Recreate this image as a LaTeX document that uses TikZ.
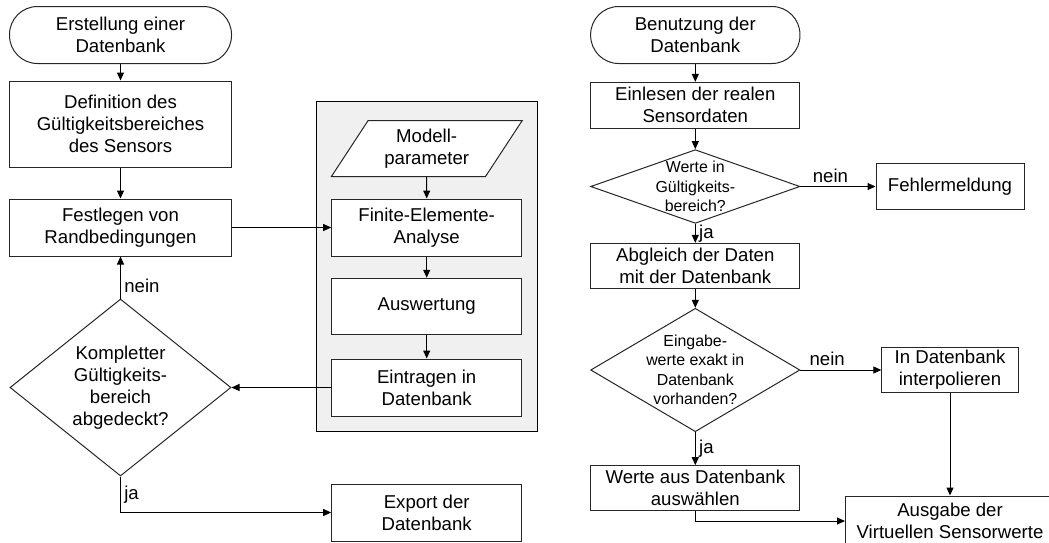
\documentclass[tikz,border=0pt]{standalone}
\usepackage{fontspec}
\setmainfont{Liberation Sans}
\usetikzlibrary{arrows.meta, shapes.geometric}

\begin{document}
\begin{tikzpicture}[
  x=1pt, y=-1pt, line width=1pt,
  font=\fontsize{18.6}{22}\selectfont,
  > = {Triangle[length=8pt,width=7pt]},
  terminal/.style = {draw=black!85, rounded corners=28pt, minimum height=57pt, align=center, inner sep=0pt},
  process/.style = {draw=black!85, fill=white, align=center, inner sep=0pt},
  decision/.style = {diamond, draw=black!85, fill=white, inner sep=0pt},
  smalltext/.style = {font=\fontsize{15.9}{19.5}\selectfont, align=center},
  data/.style = {trapezium, trapezium left angle=56, trapezium right angle=124, trapezium stretches=true,
    draw=black!85, fill=white, align=center, inner sep=0pt},
  panel/.style = {draw, fill=black!6, line width=1.2pt}
  ]
  \useasboundingbox (0,0) rectangle (1049,542);

  % Erstellung der Datenbank
  \node[terminal, minimum width=222pt] (start1) at (120.5,35) {Erstellung einer\\Datenbank};
  \node[process, minimum width=222pt, minimum height=86pt] (range) at (120.5,124) {Definition des\\Gültigkeitsbereiches\\des Sensors};
  \node[process, minimum width=222pt, minimum height=57pt] (bounds) at (120.5,227.5) {Festlegen von\\Randbedingungen};
  \node[decision, minimum width=221pt, minimum height=177pt,
    label={[align=center]center:Kompletter\\Gültigkeits-\\bereich\\abgedeckt?}] (complete) at (120.5,387.5) {};

  \node[panel, minimum width=221pt, minimum height=330pt] (group) at (427.3,266.7) {};
  \node[data, minimum width=191pt, minimum height=56pt] (params) at (426.7,148.7) {Modell-\\parameter};
  \node[process, minimum width=190pt, minimum height=57pt] (fea) at (426.7,227.5) {Finite-Elemente-\\Analyse};
  \node[process, minimum width=190pt, minimum height=56.5pt] (evaluate) at (426.7,306.5) {Auswertung};
  \node[process, minimum width=190pt, minimum height=57pt] (store) at (426.7,387.5) {Eintragen in\\Datenbank};
  \node[process, minimum width=190pt, minimum height=57pt] (export) at (426.7,512.5) {Export der\\Datenbank};

  \draw[->] (start1) -- (range);
  \draw[->] (range) -- (bounds);
  \draw[->] (bounds) -- (fea);
  \draw[->] (params) -- (fea);
  \draw[->] (fea) -- (evaluate);
  \draw[->] (evaluate) -- (store);
  \draw[->] (store) -- (complete);
  \draw[->] (complete) -- node[right, pos=.3] {nein} (bounds);
  \draw[->] (complete.south) |- node[right, pos=.25] {ja} (export.west);

  % Benutzung der Datenbank
  \node[terminal, minimum width=209.3pt] (start2) at (695.3,35) {Benutzung der\\Datenbank};
  \node[process, minimum width=209.3pt, minimum height=45.7pt] (read) at (695.3,105.2) {Einlesen der realen\\Sensordaten};
  \node[decision, minimum width=209.3pt, minimum height=73.7pt,
    label={[smalltext]center:Werte in\\Gültigkeits-\\bereich?}] (check1) at (695.3,186.5) {};
  \node[process, minimum width=148pt, minimum height=46pt] (error) at (950,186.5) {Fehlermeldung};
  \node[process, minimum width=209.3pt, minimum height=45pt] (compare) at (695.3,265.8) {Abgleich der Daten\\mit der Datenbank};
  \node[decision, minimum width=209.3pt, minimum height=123.4pt,
    label={[smalltext]center:Eingabe-\\werte exakt in\\Datenbank\\vorhanden?}] (check2) at (695.3,370) {};
  \node[process, minimum width=136.3pt, minimum height=45pt] (interp) at (950,370) {In Datenbank\\interpolieren};
  \node[process, minimum width=209.3pt, minimum height=45pt] (select) at (695.3,488.2) {Werte aus Datenbank\\auswählen};
  \node[process, minimum width=209pt, minimum height=50pt] (output) at (950,521) {Ausgabe der\\Virtuellen Sensorwerte};

  \draw[->] (start2) -- (read);
  \draw[->] (read) -- (check1);
  \draw[->] (check1) -- node[above, pos=.4] {nein} (error);
  \draw[->] (check1) -- node[right] {ja} (compare);
  \draw[->] (compare) -- (check2);
  \draw[->] (check2) -- node[above, pos=.33] {nein} (interp);
  \draw[->] (check2) -- node[right] {ja} (select);
  \draw[->] (interp) -- (output);
  \draw[->] (select.south) |- (output.west);
\end{tikzpicture}
\end{document}
